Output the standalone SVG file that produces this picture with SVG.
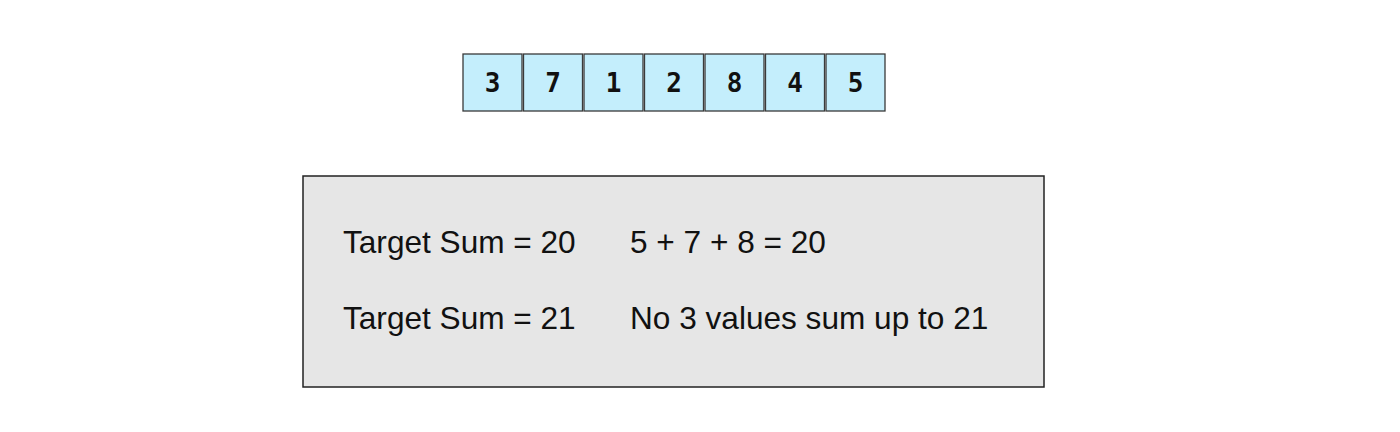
<svg xmlns="http://www.w3.org/2000/svg" width="1400" height="432" viewBox="0 0 1400 432">
<style>
.cell{fill:#c4eefc;stroke:#3a3a3a;stroke-width:1.3}
.num{font-family:"DejaVu Sans Mono","Liberation Mono",monospace;font-size:26px;font-weight:bold;fill:#111;text-anchor:middle}
.panel{fill:#e6e6e6;stroke:#222;stroke-width:1.5}
.lbl{font-family:"Liberation Sans",Arial,sans-serif;font-size:31.6px;fill:#111}
</style>
<rect width="1400" height="432" fill="#fff"/>
<g id="array">
<g id="c0"><rect class="cell" x="463" y="54" width="59" height="57"/><text class="num" x="492.5" y="92">3</text></g>
<g id="c1"><rect class="cell" x="523.5" y="54" width="59" height="57"/><text class="num" x="553" y="92">7</text></g>
<g id="c2"><rect class="cell" x="584" y="54" width="59" height="57"/><text class="num" x="613.5" y="92">1</text></g>
<g id="c3"><rect class="cell" x="644.5" y="54" width="59" height="57"/><text class="num" x="674" y="92">2</text></g>
<g id="c4"><rect class="cell" x="705" y="54" width="59" height="57"/><text class="num" x="734.5" y="92">8</text></g>
<g id="c5"><rect class="cell" x="765.5" y="54" width="59" height="57"/><text class="num" x="795" y="92">4</text></g>
<g id="c6"><rect class="cell" x="826" y="54" width="59" height="57"/><text class="num" x="855.5" y="92">5</text></g>
</g>
<g id="results">
<rect class="panel" x="303" y="176" width="741" height="211"/>
<text class="lbl" x="343" y="253">Target Sum = 20</text>
<text class="lbl" x="630" y="253">5 + 7 + 8 = 20</text>
<text class="lbl" x="343" y="329">Target Sum = 21</text>
<text class="lbl" x="630" y="329">No 3 values sum up to 21</text>
</g>
<g id="connectors"></g>
</svg>
